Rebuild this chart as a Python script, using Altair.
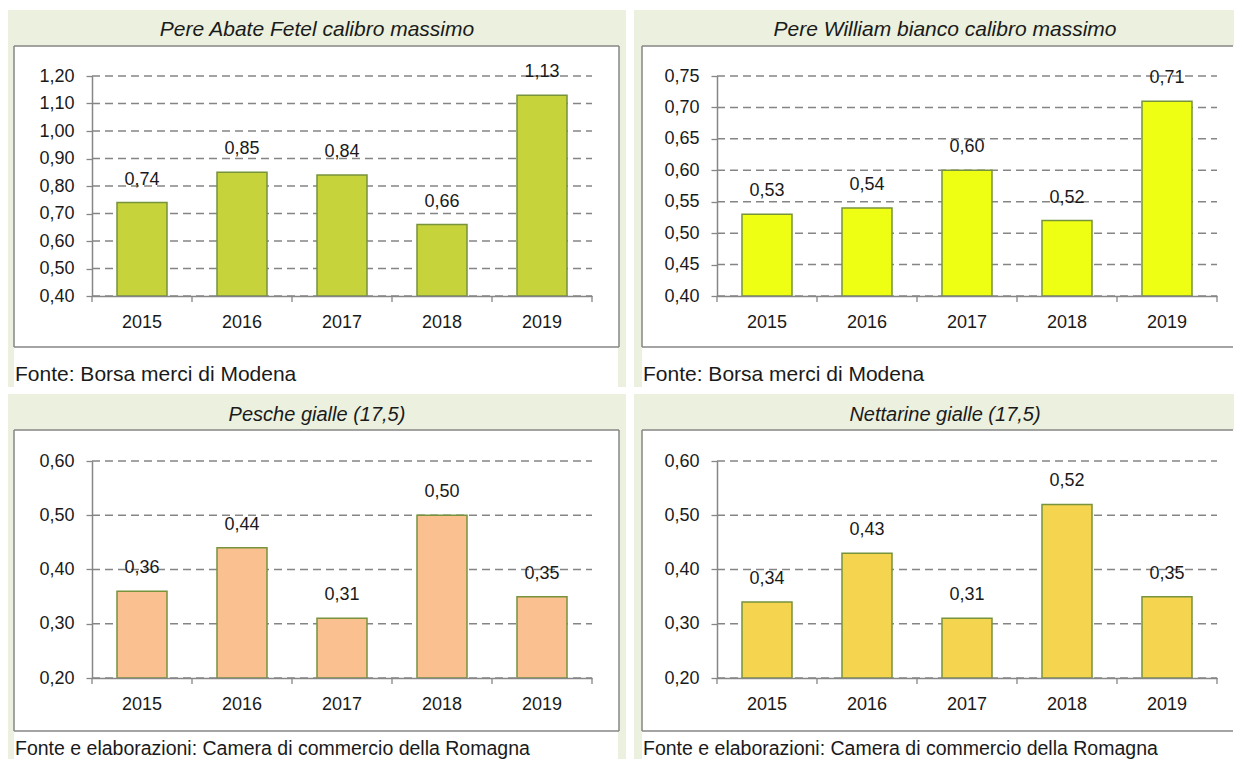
import altair as alt
import pandas as pd

# ---------------- data ----------------
years = ["2015", "2016", "2017", "2018", "2019"]
titles = [
    "Pere Abate Fetel calibro massimo",
    "Pere William bianco calibro massimo",
    "Pesche gialle (17,5)",
    "Nettarine gialle (17,5)",
]
sources = [
    "Fonte: Borsa merci di Modena",
    "Fonte: Borsa merci di Modena",
    "Fonte e elaborazioni: Camera di commercio della Romagna",
    "Fonte e elaborazioni: Camera di commercio della Romagna",
]
abate = [0.74, 0.85, 0.84, 0.66, 1.13]
william = [0.53, 0.54, 0.60, 0.52, 0.71]
pesche = [0.36, 0.44, 0.31, 0.50, 0.35]
nettarine = [0.34, 0.43, 0.31, 0.52, 0.35]
ticks_abate = [0.40, 0.50, 0.60, 0.70, 0.80, 0.90, 1.00, 1.10, 1.20]
ticks_william = [0.40, 0.45, 0.50, 0.55, 0.60, 0.65, 0.70, 0.75]
ticks_gialle = [0.20, 0.30, 0.40, 0.50, 0.60]
bar_colors = ["#C6D33B", "#EEFF14", "#FAC090", "#F5D550"]

# ---------------- style ----------------
FONT = "Liberation Sans"
GREEN_BG = "#EBF1DE"
BORDER = "#868686"
GRID = "#858585"
BAR_STROKE = "#77933C"
TXT = "#1a1a1a"
W = 500
FS_AXIS = 18
FS_LABEL = 18

COLS = [
    dict(origin=92, cell_left=8, box_left=14, box_right=619, cell_right=626,
         right_border=True, title_x=317),
    dict(origin=717, cell_left=634, box_left=642, box_right=1234, cell_right=1234,
         right_border=False, title_x=945),
]
ROWS = [
    dict(origin=76, height=220, cell_top=8, green_top=10, box_top=46, box_bottom=347,
         cell_bottom=387, title_y=30, source_y=375, fs_title=21, fs_source=21),
    dict(origin=461, height=217, cell_top=394, green_top=394, box_top=430, box_bottom=731,
         cell_bottom=759, title_y=415, source_y=749, fs_title=20, fs_source=19.5),
]

one = pd.DataFrame({"k": [0]})
LABEL_EXPR = "replace(format(datum.value, '.2f'), '.', ',')"


def panel(values, ticks, color, title, source, col, row):
    H = row["height"]
    ox, oy = col["origin"], row["origin"]

    def rx(v):
        return v - ox

    def ry(v):
        return v - oy

    def rect(x1, x2, y1, y2, fill):
        return alt.Chart(one).mark_rect(color=fill).encode(
            x=alt.value(rx(x1)), x2=alt.value(rx(x2)),
            y=alt.value(ry(y1)), y2=alt.value(ry(y2)))

    def hline(x1, x2, y):
        return alt.Chart(one).mark_rule(color=BORDER, strokeWidth=1.5).encode(
            x=alt.value(rx(x1)), x2=alt.value(rx(x2)), y=alt.value(ry(y)))

    def vline(x, y1, y2):
        return alt.Chart(one).mark_rule(color=BORDER, strokeWidth=1.5).encode(
            x=alt.value(rx(x)), y=alt.value(ry(y1)), y2=alt.value(ry(y2)))

    df = pd.DataFrame({"year": years, "value": values})
    tdf = pd.DataFrame({"value": ticks})
    yscale = alt.Scale(domain=[ticks[0], ticks[-1]], zero=False, nice=False)
    xscale = alt.Scale(paddingInner=0, paddingOuter=0)

    yaxis = alt.Axis(values=ticks, labelExpr=LABEL_EXPR, grid=False, title=None,
                     domainColor=BORDER, domainWidth=1.5, tickColor=BORDER,
                     tickSize=6, tickWidth=1.3, labelFontSize=FS_AXIS, labelFont=FONT,
                     labelColor=TXT, labelPadding=12, zindex=1)
    xaxis = alt.Axis(labelAngle=0, grid=False, title=None, domainColor=BORDER,
                     domainWidth=1.5, ticks=False, labelFontSize=FS_AXIS, labelFont=FONT,
                     labelColor=TXT, labelPadding=17, zindex=1)

    right_line = col["box_right"] - (0 if col["right_border"] else 1)
    layers = [
        rect(col["cell_left"], col["cell_right"], row["cell_top"], row["cell_bottom"], "white"),
        rect(col["cell_left"], col["cell_right"], row["green_top"], row["cell_bottom"], GREEN_BG),
        rect(col["box_left"], col["box_right"], row["box_top"], row["box_bottom"], "white"),
        rect(col["box_left"], col["box_right"] - (1 if col["right_border"] else 0),
             row["box_bottom"], row["cell_bottom"], "white"),
        hline(col["box_left"], right_line, row["box_top"]),
        hline(col["box_left"], right_line, row["box_bottom"]),
        vline(col["box_left"], row["box_top"], row["box_bottom"]),
    ]
    if col["right_border"]:
        layers.append(vline(col["box_right"], row["box_top"], row["box_bottom"]))

    title_mark = alt.Chart(one).mark_text(
        text=title, font=FONT, fontSize=row["fs_title"], fontStyle="italic", color=TXT,
        align="center", baseline="middle").encode(
        x=alt.value(rx(col["title_x"])), y=alt.value(ry(row["title_y"])))
    source_mark = alt.Chart(one).mark_text(
        text=source, font=FONT, fontSize=row["fs_source"], color=TXT,
        align="left", baseline="middle").encode(
        x=alt.value(rx(col["box_left"] + 1)), y=alt.value(ry(row["source_y"])))

    grid = alt.Chart(tdf).mark_rule(color=GRID, strokeDash=[8, 5], strokeWidth=1.5).encode(
        y=alt.Y("value:Q", scale=yscale, axis=yaxis),
        x=alt.value(0), x2=alt.value(W))

    bars = alt.Chart(df).mark_bar(
        color=color, stroke=BAR_STROKE, strokeWidth=1.5, width={"band": 0.5}).encode(
        x=alt.X("year:N", scale=xscale, axis=xaxis),
        y=alt.Y("value:Q", scale=yscale, axis=yaxis),
        y2=alt.datum(ticks[0]))

    labels = alt.Chart(df).transform_calculate(
        label="replace(format(datum.value, '.2f'), '.', ',')").mark_text(
        font=FONT, fontSize=FS_LABEL, color=TXT, baseline="middle", dy=-23).encode(
        x=alt.X("year:N", scale=xscale, axis=xaxis),
        y=alt.Y("value:Q", scale=yscale, axis=yaxis),
        text="label:N")

    xticks = alt.Chart(df).mark_rule(color=BORDER, strokeWidth=1.3).encode(
        x=alt.X("year:N", bandPosition=0, scale=xscale, axis=xaxis),
        y=alt.value(H), y2=alt.value(H + 6))
    xtick_last = alt.Chart(df).transform_filter("datum.year == '2019'").mark_rule(
        color=BORDER, strokeWidth=1.3).encode(
        x=alt.X("year:N", bandPosition=1, scale=xscale, axis=xaxis),
        y=alt.value(H), y2=alt.value(H + 6))

    layers += [title_mark, source_mark, grid, bars, labels, xticks, xtick_last]
    return alt.layer(*layers).properties(width=W, height=H)


p1 = panel(abate, ticks_abate, bar_colors[0], titles[0], sources[0], COLS[0], ROWS[0])
p2 = panel(william, ticks_william, bar_colors[1], titles[1], sources[1], COLS[1], ROWS[0])
p3 = panel(pesche, ticks_gialle, bar_colors[2], titles[2], sources[2], COLS[0], ROWS[1])
p4 = panel(nettarine, ticks_gialle, bar_colors[3], titles[3], sources[3], COLS[1], ROWS[1])

chart = alt.vconcat(
    alt.hconcat(p1, p2, spacing=8),
    alt.hconcat(p3, p4, spacing=8),
    spacing=7,
).properties(padding=0, background="white").configure_view(stroke=None)

chart.save("out.html", embed_options={"renderer": "svg", "actions": False})
